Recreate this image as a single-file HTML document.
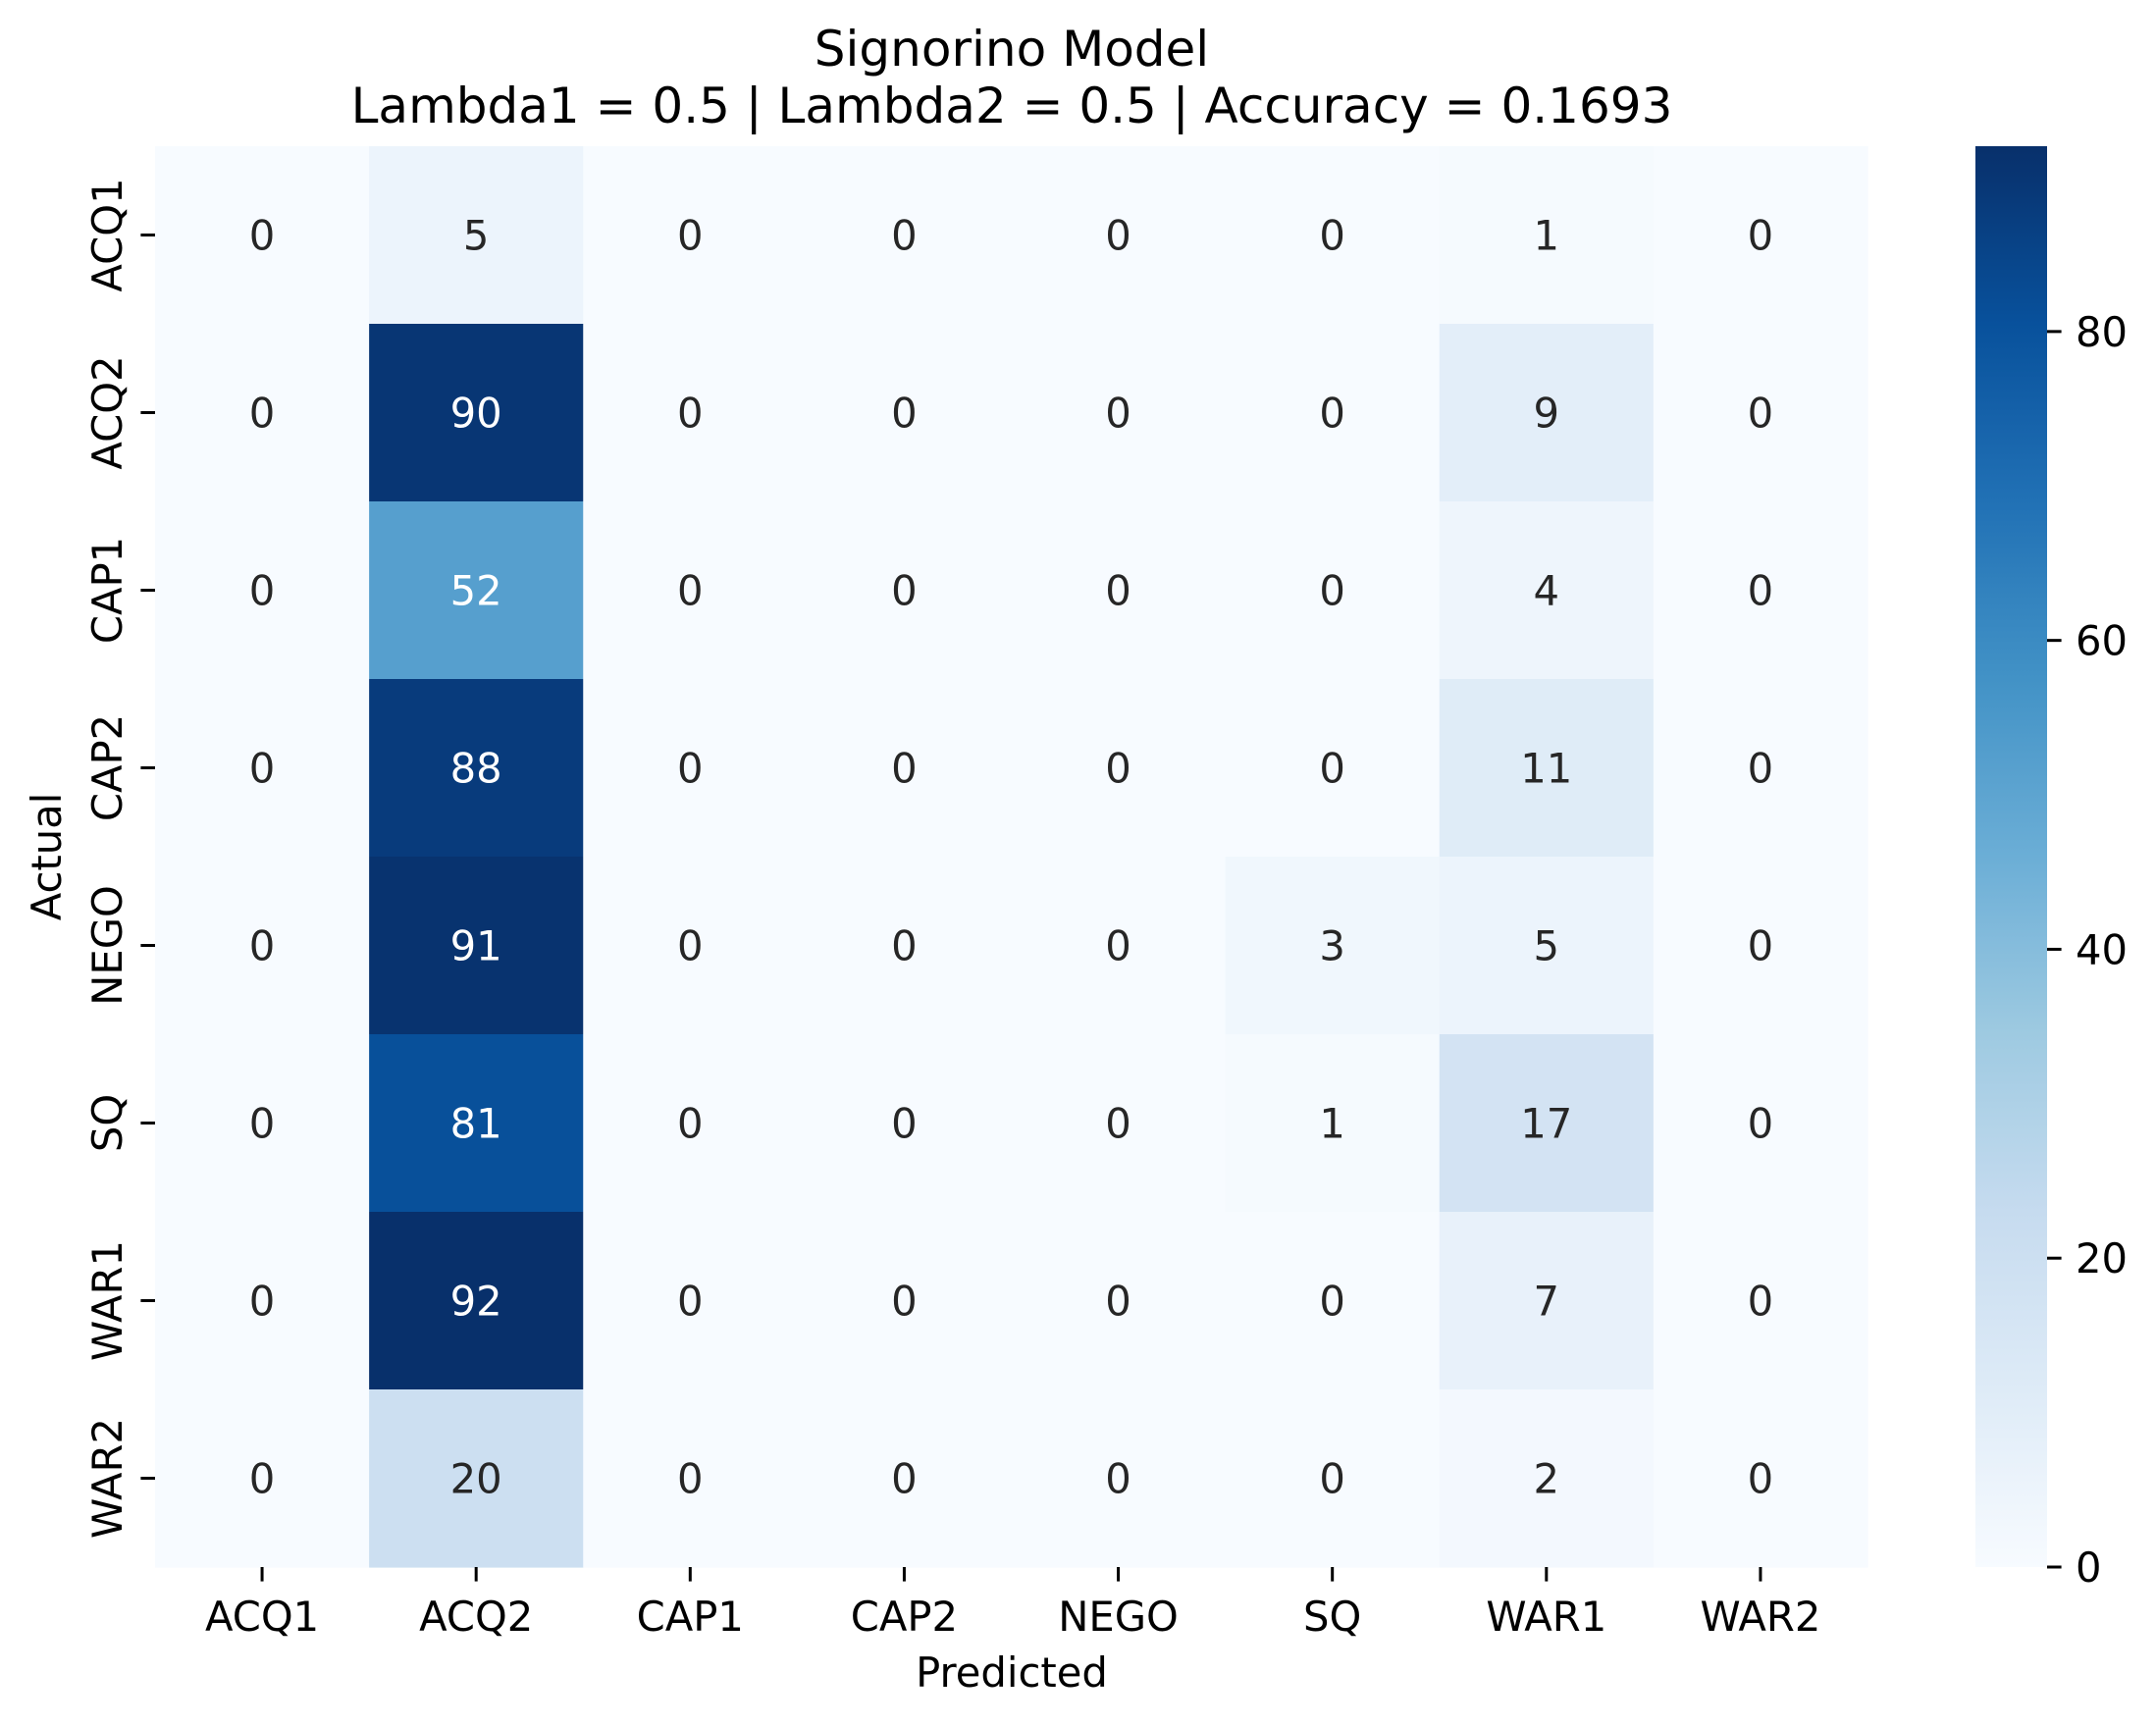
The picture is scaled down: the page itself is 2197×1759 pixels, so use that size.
<!DOCTYPE html>
<html><head><meta charset="utf-8"><style>
html,body{margin:0;padding:0;background:#fff;}
svg{display:block;font-family:"DejaVu Sans","Liberation Sans",sans-serif;}
</style></head><body>
<svg id="chart" width="2197" height="1759" viewBox="0 0 2197 1759" xmlns="http://www.w3.org/2000/svg">
<defs><linearGradient id="cbgrad" x1="0" y1="1" x2="0" y2="0"></linearGradient></defs>
<text x="1031" y="67" font-size="50" text-anchor="middle" fill="#000">Signorino Model</text>
<text x="1031" y="125" font-size="50" text-anchor="middle" fill="#000">Lambda1 = 0.5 | Lambda2 = 0.5 | Accuracy = 0.1693</text>
<g id="cells"></g>
<g id="xticks"></g>
<g id="yticks"></g>
<text x="1031" y="1719" font-size="41.7" text-anchor="middle" fill="#000">Predicted</text>
<text transform="translate(62,873) rotate(-90)" font-size="41.7" text-anchor="middle" fill="#000">Actual</text>
<rect id="cbar" x="2013" y="149" width="73" height="1448" fill="url(#cbgrad)"></rect>
<g id="cbticks"></g>
</svg>
<script>
const categories = ["ACQ1","ACQ2","CAP1","CAP2","NEGO","SQ","WAR1","WAR2"];
const row_ACQ1 = [0,5,0,0,0,0,1,0];
const row_ACQ2 = [0,90,0,0,0,0,9,0];
const row_CAP1 = [0,52,0,0,0,0,4,0];
const row_CAP2 = [0,88,0,0,0,0,11,0];
const row_NEGO = [0,91,0,0,0,3,5,0];
const row_SQ = [0,81,0,0,0,1,17,0];
const row_WAR1 = [0,92,0,0,0,0,7,0];
const row_WAR2 = [0,20,0,0,0,0,2,0];
const colorbarTicks = [0,20,40,60,80];

const matrix = [row_ACQ1,row_ACQ2,row_CAP1,row_CAP2,row_NEGO,row_SQ,row_WAR1,row_WAR2];
const NS = "http://www.w3.org/2000/svg";
const L = 158, R = 1903, T = 149, B = 1597;
const n = categories.length;
const cw = (R - L) / n, ch = (B - T) / n;
const vmin = 0;
const vmax = Math.max(...matrix.flat());
const xScale = i => L + i * cw;
const yScale = i => T + i * ch;
const cbY = v => B - (v - vmin) / (vmax - vmin) * (B - T);

const stops = ["#f7fbff","#deebf7","#c6dbef","#9ecae1","#6baed6","#4292c6","#2171b5","#08519c","#08306b"];
function hex(h){return [1,3,5].map(k=>parseInt(h.substr(k,2),16));}
function blues(t){
  t = Math.max(0, Math.min(1, t));
  const p = t * (stops.length - 1), i = Math.min(Math.floor(p), stops.length - 2), f = p - i;
  const a = hex(stops[i]), b = hex(stops[i+1]);
  return a.map((c,k)=>Math.round(c + (b[k]-c)*f));
}
function lum(c){
  const l = c.map(v=>{v/=255;return v<=0.03928?v/12.92:Math.pow((v+0.055)/1.055,2.4);});
  return 0.2126*l[0]+0.7152*l[1]+0.0722*l[2];
}
function mk(tag, attrs, parent){
  const e = document.createElementNS(NS, tag);
  for (const k in attrs) e.setAttribute(k, attrs[k]);
  parent.appendChild(e);
  return e;
}

const cells = document.getElementById("cells");
matrix.forEach((row, r) => {
  row.forEach((v, c) => {
    const col = blues((v - vmin) / (vmax - vmin));
    const rect = mk("rect", {x: xScale(c), y: yScale(r), width: cw + 0.6, height: ch + 0.6, fill: "rgb(" + col.join(",") + ")"}, cells);
    
    
    const t = mk("text", {x: xScale(c) + cw/2, y: yScale(r) + ch/2 + 15, "font-size": 41.7, "text-anchor": "middle", fill: lum(col) < 0.408 ? "#ffffff" : "#262626"}, cells);
    
    
    t.textContent = v;
  });
});

const xt = document.getElementById("xticks");
const yt = document.getElementById("yticks");
categories.forEach((cat, i) => {
  const cx = xScale(i) + cw/2;
  const tk = mk("line", {x1: cx, x2: cx, y1: B, y2: B + 14.6, stroke: "#000", "stroke-width": 3}, xt);
  
  
  const lb = mk("text", {x: cx, y: 1662, "font-size": 41.7, "text-anchor": "middle", fill: "#000"}, xt);
  
  
  lb.textContent = cat;

  const cy = yScale(i) + ch/2;
  const tk2 = mk("line", {x1: L - 14.6, x2: L, y1: cy, y2: cy, stroke: "#000", "stroke-width": 3}, yt);
  
  
  const lb2 = mk("text", {transform: "translate(124," + cy + ") rotate(-90)", "font-size": 41.7, "text-anchor": "middle", fill: "#000"}, yt);
  
  
  lb2.textContent = cat;
});

const grad = document.getElementById("cbgrad");
for (let k = 0; k <= 32; k++) {
  const t = k / 32;
  mk("stop", {offset: t, "stop-color": "rgb(" + blues(t).join(",") + ")"}, grad);
}
const cbt = document.getElementById("cbticks");
colorbarTicks.forEach(v => {
  const y = cbY(v);
  const l = mk("line", {x1: 2086, x2: 2100.6, y1: y, y2: y, stroke: "#000", "stroke-width": 3}, cbt);
  
  
  const t = mk("text", {x: 2115, y: y + 15, "font-size": 41.7, fill: "#000"}, cbt);
  
  
  t.textContent = v;
});
</script>
</body></html>
